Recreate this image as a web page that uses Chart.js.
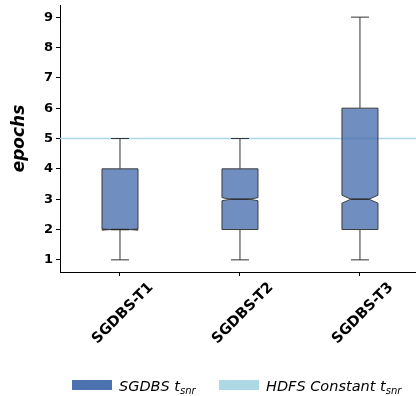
<!DOCTYPE html>
<html>
<head>
<meta charset="utf-8">
<script src="https://cdn.jsdelivr.net/npm/chart.js@4.4.1/dist/chart.umd.min.js"></script>
<style>
    html, body { margin: 0; padding: 0; background: #fff; }
    #wrap { position: relative; width: 416px; height: 396px; }
    #legend {
        position: absolute; left: 0; top: 378px; width: 416px;
        font-family: "DejaVu Sans", sans-serif; font-style: italic; font-size: 14.5px; color: #000;
    }
    #legend .item { position: absolute; top: 0; white-space: nowrap; }
    #legend .patch { display: inline-block; width: 40px; height: 10px; vertical-align: middle; margin-right: 7px; position: relative; top: -2px; }
    #legend sub { font-size: 10px; vertical-align: -3px; }
</style>
</head>
<body>
<div id="wrap">
    <canvas id="boxChart"></canvas>
    <div id="legend">
        <span class="item" style="left:72px"><span class="patch" style="background:#4c72b0"></span>SGDBS t<sub>snr</sub></span>
        <span class="item" style="left:219px"><span class="patch" style="background:#add8e6"></span>HDFS Constant t<sub>snr</sub></span>
    </div>
</div>
<script>
// --- data ---
const categories = ['SGDBS-T1', 'SGDBS-T2', 'SGDBS-T3'];
const whiskerLow = [1, 1, 1];
const quartile1 = [2, 2, 2];
const medians = [2, 3, 3];
const quartile3 = [4, 4, 6];
const whiskerHigh = [5, 5, 9];
const notchLow = [1.98, 2.95, 2.87];
const notchHigh = [2.02, 3.05, 3.13];
const hdfsConstant = 5;
const yTicks = [1, 2, 3, 4, 5, 6, 7, 8, 9];

const BOX_WIDTH = 0.3; // in x-axis units
const X_MIN = 0.5, X_MAX = 3.467;

// draws the notched boxes + whiskers on top of the datasets
const notchedBoxPlugin = {
    id: 'notchedBox',
    afterDatasetsDraw(chart) {
        const ctx = chart.ctx;
        const x = chart.scales.x, y = chart.scales.y;
        ctx.save();
        categories.forEach((cat, i) => {
            const pos = i + 1;
            const left = x.getPixelForValue(pos - BOX_WIDTH / 2);
            const right = x.getPixelForValue(pos + BOX_WIDTH / 2);
            const inL = x.getPixelForValue(pos - BOX_WIDTH / 4);
            const inR = x.getPixelForValue(pos + BOX_WIDTH / 4);
            const cx = x.getPixelForValue(pos);
            const yq1 = y.getPixelForValue(quartile1[i]);
            const yq3 = y.getPixelForValue(quartile3[i]);
            const ymed = y.getPixelForValue(medians[i]);
            const ynl = y.getPixelForValue(notchLow[i]);
            const ynh = y.getPixelForValue(notchHigh[i]);
            const ylo = y.getPixelForValue(whiskerLow[i]);
            const yhi = y.getPixelForValue(whiskerHigh[i]);

            // whiskers + caps
            ctx.strokeStyle = '#333';
            ctx.lineWidth = 1;
            ctx.beginPath();
            ctx.moveTo(cx, yq1); ctx.lineTo(cx, ylo);
            ctx.moveTo(cx, yq3); ctx.lineTo(cx, yhi);
            ctx.moveTo(inL, ylo); ctx.lineTo(inR, ylo);
            ctx.moveTo(inL, yhi); ctx.lineTo(inR, yhi);
            ctx.stroke();

            // notched box
            ctx.beginPath();
            ctx.moveTo(left, yq1);
            ctx.lineTo(right, yq1);
            ctx.lineTo(right, ynl);
            ctx.lineTo(inR, ymed);
            ctx.lineTo(right, ynh);
            ctx.lineTo(right, yq3);
            ctx.lineTo(left, yq3);
            ctx.lineTo(left, ynh);
            ctx.lineTo(inL, ymed);
            ctx.lineTo(left, ynl);
            ctx.closePath();
            ctx.fillStyle = 'rgba(76, 114, 176, 0.8)';
            ctx.fill();
            ctx.strokeStyle = '#3d3d3d';
            ctx.stroke();

            // median
            ctx.strokeStyle = '#2a2a2a';
            ctx.lineWidth = 1.5;
            ctx.beginPath();
            ctx.moveTo(inL, ymed); ctx.lineTo(inR, ymed);
            ctx.stroke();
        });
        ctx.restore();
    }
};

const tickFont = { family: 'DejaVu Sans', size: 13, weight: 'bold' };

new Chart(document.getElementById('boxChart'), {
    type: 'scatter',
    data: {
        datasets: [{
            label: 'HDFS Constant',
            type: 'line',
            data: [{ x: X_MIN, y: hdfsConstant }, { x: 3.5, y: hdfsConstant }],
            borderColor: '#add8e6',
            borderWidth: 1.5,
            pointRadius: 0,
            showLine: true
        }]
    },
    options: {
        responsive: true,
        maintainAspectRatio: false,
        animation: false,
        layout: { padding: { top: 5, right: 0, left: 0, bottom: 0 } },
        plugins: { legend: { display: false }, tooltip: { enabled: false } },
        scales: {
            x: {
                type: 'linear',
                min: X_MIN,
                max: X_MAX,
                afterBuildTicks(scale) { scale.ticks = categories.map((c, i) => ({ value: i + 1 })); },
                afterFit(scale) { scale.height = 124; scale.paddingRight = 0; },
                grid: { drawOnChartArea: false, color: '#000', tickLength: 4 },
                border: { color: '#000', width: 1 },
                ticks: {
                    font: { family: 'DejaVu Sans', size: 14.5, weight: 'bold' }, color: '#000',
                    minRotation: 45, maxRotation: 45,
                    labelOffset: 31,
                    padding: 3,
                    callback: v => categories[v - 1]
                }
            },
            y: {
                min: 0.6,
                max: 9.4,
                afterBuildTicks(scale) { scale.ticks = yTicks.map(v => ({ value: v })); },
                afterFit(scale) { scale.width = 60; scale.paddingTop = 0; scale.paddingBottom = 0; },
                grid: { drawOnChartArea: false, color: '#000', tickLength: 4 },
                border: { color: '#000', width: 1 },
                ticks: { font: tickFont, color: '#000', padding: 3 },
                title: {
                    display: true, text: 'epochs', color: '#000',
                    font: { family: 'DejaVu Sans', size: 17, weight: 'bold', style: 'italic' },
                    padding: { top: 9, bottom: 4 }
                }
            }
        }
    },
    plugins: [notchedBoxPlugin]
});
</script>
</body>
</html>
